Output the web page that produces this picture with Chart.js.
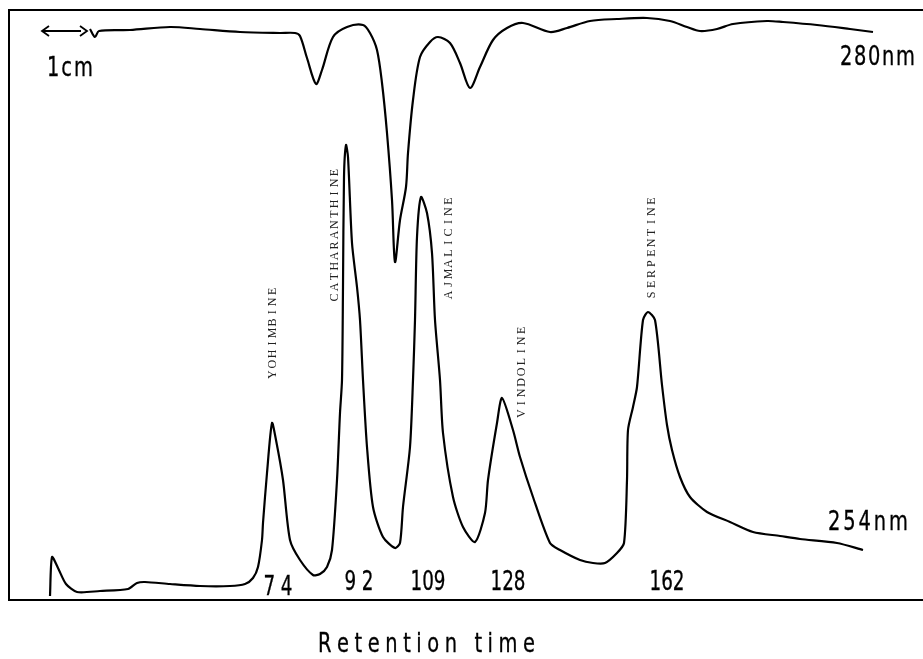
<!DOCTYPE html>
<html>
<head>
<meta charset="utf-8">
<script src="https://cdn.jsdelivr.net/npm/chart.js@4/dist/chart.umd.min.js"></script>
<style>
  html, body { margin: 0; padding: 0; background: #fff; }
  canvas { display: block; }
</style>
</head>
<body>
<canvas id="chart" width="923" height="659"></canvas>
<script>
// ── Data: recorder paper, mm (x along the run, y = pen deflection) ──────────
const trace280X = [16.2, 17.2, 18.0, 24.2, 32.2, 38.2, 46.2, 54.2, 57.2, 58.2, 59.6, 61.4, 62.6, 64.8,
  67.6, 70.8, 72.2, 73.6, 74.6, 75.6, 76.6, 77.2, 78.2, 79.4, 79.8, 80.8, 82.2, 84.2, 85.8, 88.2,
  90.2, 92.2, 94.2, 96.8, 99.6, 102.8, 108.2, 111.6, 116.2, 121.6, 127.6, 132.2, 135.6, 138.2,
  141.6, 144.8, 151.6, 154.8, 161.6, 168.2, 172.8];
const trace280Y = [114.2, 112.6, 113.8, 114.0, 114.6, 114.2, 113.6, 113.4, 113.4, 112.8, 108.4, 103.2, 106.0, 112.6,
  114.6, 115.0, 113.4, 110.0, 103.4, 93.4, 80.0, 67.6, 76.0, 82.6, 89.4, 100.0, 108.6, 111.6, 112.6, 111.4,
  107.4, 102.4, 106.6, 112.0, 114.4, 115.4, 113.6, 114.4, 115.8, 116.2, 116.4, 115.8, 114.6, 113.8,
  114.2, 115.2, 115.8, 115.6, 115.0, 114.2, 113.6];

const trace254X = [8.2, 8.6, 9.8, 11.4, 13.6, 18.2, 23.8, 25.6, 27.2, 32.2, 38.2, 44.2, 47.2, 48.8, 49.8,
  50.6, 50.8, 51.6, 52.6, 53.4, 54.8, 56.2, 58.2, 60.8, 62.2, 63.6, 64.6, 65.6, 66.2, 66.6, 66.8,
  67.0, 67.4, 67.8, 68.6, 69.6, 70.2, 70.8, 71.6, 72.8, 74.8, 77.2, 78.2, 78.8, 80.2, 80.8, 81.2,
  81.6, 82.4, 83.6, 84.6, 85.2, 86.2, 86.8, 88.8, 90.8, 93.2, 95.2, 95.8, 97.6, 98.6, 100.8, 102.2,
  104.8, 108.2, 110.2, 114.2, 116.8, 119.2, 121.6, 123.0, 123.6, 123.8, 124.8, 125.6, 126.8, 127.8,
  129.2, 130.6, 131.6, 132.6, 134.2, 136.2, 139.6, 144.2, 148.8, 154.2, 158.2, 165.6, 170.8];
const trace254Y = [0.8, 8.6, 6.4, 3.2, 1.6, 1.8, 2.2, 3.4, 3.6, 3.2, 2.8, 2.8, 3.2, 4.4, 6.6,
  12.0, 15.4, 25.4, 35.4, 32.0, 24.0, 12.0, 8.0, 5.0, 5.2, 6.6, 10.0, 24.0, 37.4, 44.0, 62.6,
  84.6, 91.0, 88.6, 71.4, 62.6, 56.0, 44.0, 30.6, 18.6, 12.6, 10.4, 11.4, 18.6, 30.6, 44.0, 56.0,
  72.6, 80.6, 77.4, 69.4, 56.0, 44.0, 33.4, 20.6, 14.6, 11.6, 17.4, 24.0, 35.4, 40.4, 34.0, 28.6,
  20.6, 11.4, 10.0, 8.0, 7.4, 7.4, 9.4, 11.4, 24.0, 34.0, 38.6, 42.6, 56.0, 57.6,
  56.0, 43.0, 35.0, 30.0, 24.6, 20.6, 17.6, 15.6, 13.6, 12.8, 12.2, 11.4, 10.0];

const peakNames = ['YOHIMBINE', 'CATHARANTHINE', 'AJMALICINE', 'VINDOLINE', 'SERPENTINE'];
const peakNameX = [52.8, 65.2, 88.0, 102.6, 128.6];
const peakNameY = [53.4, 73.0, 70.4, 45.6, 70.4];

const retentionLabels = ['74', '92', '109', '128', '162'];
const retentionX = [53.8, 70.0, 83.8, 99.8, 131.6];
const retentionY = [1.0, 2.0, 2.0, 2.0, 2.0];

const toPoints = (xs, ys) => xs.map((x, i) => ({ x, y: ys[i] }));

// ── Text helpers ────────────────────────────────────────────────────────────
const LETTER = 'DejaVu Sans, sans-serif';

// stencil-style lettering: char by char, squeezed, spread to a given width
function drawFit(ctx, text, left, baseline, width, size, sx) {
  ctx.font = `${size}px ${LETTER}`;
  const ws = [...text].map(ch => ctx.measureText(ch).width * sx);
  const glyphs = ws.reduce((a, b) => a + b, 0);
  const gap = text.length > 1 ? (width - glyphs) / (text.length - 1) : 0;
  let x = left;
  [...text].forEach((ch, i) => {
    if (ch !== ' ') {
      ctx.save();
      ctx.translate(x, baseline);
      ctx.scale(sx, 1);
      ctx.fillText(ch, 0, 0);
      ctx.lineWidth = 0.35;
      ctx.strokeText(ch, 0, 0);
      ctx.restore();
    }
    x += ws[i] + gap;
  });
}

// typewriter label, rotated to read bottom-to-top, centred on (cx, cy)
function drawVertical(ctx, text, cx, cy) {
  const pitch = 10.4;
  ctx.save();
  ctx.translate(cx, cy);
  ctx.rotate(-Math.PI / 2);
  ctx.font = '12px "Liberation Serif", serif';
  ctx.textAlign = 'center';
  ctx.textBaseline = 'middle';
  ctx.fillStyle = '#222';
  const n = text.length;
  [...text].forEach((ch, i) => {
    ctx.fillText(ch, (i - (n - 1) / 2) * pitch, 0);
  });
  ctx.restore();
}

// ── Frame + annotations ─────────────────────────────────────────────────────
const paperPlugin = {
  id: 'paper',
  afterDatasetsDraw(chart) {
    const { ctx, chartArea: a, scales: { x, y } } = chart;
    ctx.save();
    ctx.strokeStyle = '#000';
    ctx.lineWidth = 2;
    ctx.beginPath();
    ctx.moveTo(chart.width, a.top);
    ctx.lineTo(a.left, a.top);
    ctx.lineTo(a.left, a.bottom);
    ctx.lineTo(chart.width, a.bottom);
    ctx.stroke();

    // 1 cm scale arrow
    const ay = y.getPixelForValue(113.8);
    const x0 = x.getPixelForValue(6.6), x1 = x.getPixelForValue(15.6);
    ctx.lineWidth = 1.8;
    ctx.beginPath();
    ctx.moveTo(x0 + 7, ay - 5); ctx.lineTo(x0, ay); ctx.lineTo(x0 + 7, ay + 5);
    ctx.moveTo(x0, ay); ctx.lineTo(x1 - 6, ay);
    ctx.moveTo(x1 - 7, ay - 5); ctx.lineTo(x1, ay); ctx.lineTo(x1 - 7, ay + 5);
    ctx.stroke();

    ctx.fillStyle = '#000';
    ctx.textAlign = 'left';
    ctx.textBaseline = 'alphabetic';
    drawFit(ctx, '1cm', 47, 76, 46, 27, 0.72);
    drawFit(ctx, '280nm', 840, 65, 75, 27, 0.72);
    drawFit(ctx, '254nm', 828, 530, 80, 27, 0.72);
    drawFit(ctx, 'Retention time', 318, 652, 217, 27, 0.72);

    // retention numbers under the peaks
    retentionLabels.forEach((t, i) => {
      const w = t.length === 2 ? 29 : 35;
      const cx = x.getPixelForValue(retentionX[i]);
      drawFit(ctx, t, cx - w / 2, y.getPixelForValue(retentionY[i]), w, 27, 0.68);
    });

    // compound names
    peakNames.forEach((t, i) => {
      drawVertical(ctx, t, x.getPixelForValue(peakNameX[i]), y.getPixelForValue(peakNameY[i]));
    });
    ctx.restore();
  }
};

new Chart(document.getElementById('chart'), {
  type: 'scatter',
  data: {
    datasets: [
      {
        label: '280 nm',
        data: toPoints(trace280X, trace280Y),
        showLine: true,
        borderColor: '#000',
        borderWidth: 2.2,
        pointRadius: 0,
        tension: 0.3
      },
      {
        label: '254 nm',
        data: toPoints(trace254X, trace254Y),
        showLine: true,
        borderColor: '#000',
        borderWidth: 2.2,
        pointRadius: 0,
        tension: 0.25
      }
    ]
  },
  options: {
    responsive: false,
    animation: false,
    events: [],
    layout: { padding: { left: 9, top: 10, right: 0, bottom: 59 } },
    plugins: { legend: { display: false }, tooltip: { enabled: false } },
    scales: {
      x: { type: 'linear', min: 0, max: 182.8, display: false },
      y: { type: 'linear', min: 0, max: 118, display: false }
    }
  },
  plugins: [paperPlugin]
});
</script>
</body>
</html>
